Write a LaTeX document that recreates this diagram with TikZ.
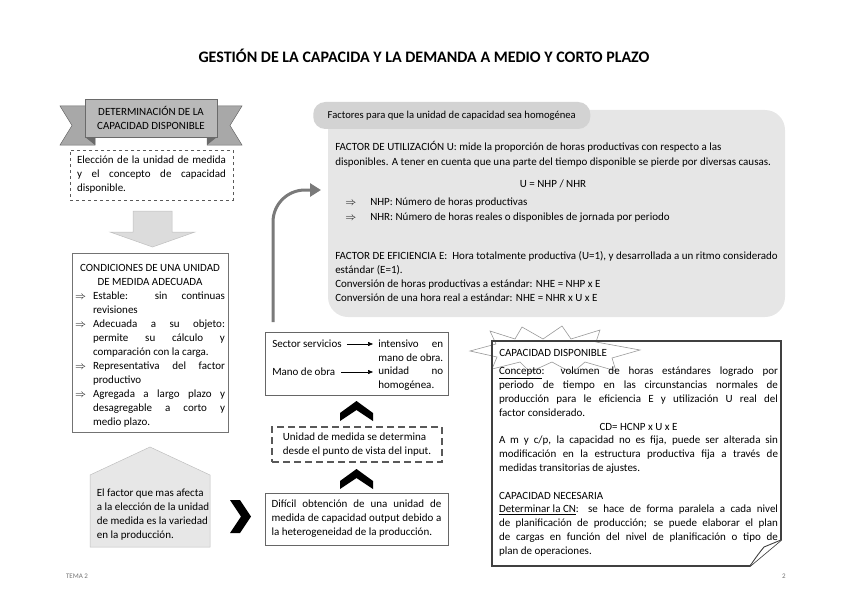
\documentclass[tikz,border=0pt]{standalone}
\usepackage{fontspec}
\setmainfont{Carlito}
\usepackage{amsmath,amssymb}
\usetikzlibrary{arrows.meta,calc}
\setlength{\parindent}{0pt}
\definecolor{ribgray}{HTML}{A8A8A8}
\definecolor{ribdark}{HTML}{6A6A6A}
\definecolor{panelgray}{HTML}{E6E6E6}
\definecolor{tabgray}{HTML}{D3D3D3}
\definecolor{curvegray}{HTML}{7A7A7A}
\definecolor{softgray}{HTML}{DCDCDC}
\newcommand{\arritem}[1]{\hangindent=18pt\hangafter=1\makebox[18pt][l]{$\Rightarrow$}#1\par}
\tikzset{
  >={Triangle[length=5pt,width=4pt]},
  txt/.style={font=\fontsize{11}{14}\selectfont,inner sep=0pt},
  jt/.style={txt,align=justify},
  bx/.style={draw=black!60,line width=0.8pt},
  dbx/.style={draw=black!65,dashed,line width=0.9pt},
  every picture/.style={line width=0.5pt},
}
\begin{document}
\begin{tikzpicture}[x=1pt,y=-1pt]
\useasboundingbox (0,0) rectangle (848,599);
\node[font=\fontsize{16}{18}\selectfont\bfseries] (title) at (424,56) {GESTIÓN DE LA CAPACIDA Y LA DEMANDA A MEDIO Y CORTO PLAZO};
% ribbon
\fill[ribgray,draw=ribdark] (60,106)--(95,106)--(95,145)--(60,145)--(72,125.5)--cycle;
\fill[ribgray,draw=ribdark] (242,106)--(207,106)--(207,145)--(242,145)--(230,125.5)--cycle;
\fill[ribdark] (85,137)--(95,145)--(95,137)--cycle; \fill[ribdark] (217,137)--(207,145)--(207,137)--cycle;
\node[txt,draw=ribdark,fill=ribgray!80,line width=0.8pt,minimum width=132pt,minimum height=38pt,align=center] (ribbon) at (151,118) {DETERMINACIÓN DE LA\\CAPACIDAD DISPONIBLE};
\node[jt,dbx,text width=149pt,minimum height=50pt,inner xsep=7pt,inner ysep=6pt] (elec) at (151.5,175) {Elección de la unidad de medida\linebreak y el concepto de capacidad\linebreak disponible.};
\fill[softgray,draw=black!25] (133,211)--(172,211)--(172,232)--(195,232)--(152.5,247)--(110,232)--(133,232)--cycle;
\node[jt,bx,draw=black!55,text width=150pt,minimum height=179pt,inner xsep=3pt] (cond) at (150,342.5) {\rule{0pt}{13pt}{\centering CONDICIONES DE UNA UNIDAD\\DE MEDIDA ADECUADA\par}
\arritem{Estable: sin continuas\linebreak revisiones}
\arritem{Adecuada a su objeto:\linebreak permite su cálculo y\linebreak comparación con la carga.}
\arritem{Representativa del factor\linebreak productivo}
\arritem{Agregada a largo plazo y\linebreak desagregable a corto y\linebreak medio plazo.}};
% house
\fill[softgray!70,draw=black!25] (150,447)--(210,475)--(210,547)--(90,547)--(90,475)--cycle;
\node[txt,align=left] (house) at (153,515) {El factor que mas afecta\\a la elección de la unidad\\de medida es la variedad\\en la producción.};
\fill (230,500)--(240,500)--(251,516.5)--(240,533)--(230,533)--(241,516.5)--cycle;
% panel
\node[fill=panelgray,rounded corners=20pt,minimum width=457pt,minimum height=207pt] (panel) at (556.5,213.5) {};
\node[txt,font=\fontsize{10.6}{14}\selectfont,fill=tabgray,rounded corners=12pt,minimum width=277pt,minimum height=27pt,anchor=west] (tab) at (313,115.5) {Factores para que la unidad de capacidad sea homogénea};
\node[txt,font=\fontsize{11}{15}\selectfont,align=left,anchor=west] (futil) at (335,154.5) {FACTOR DE UTILIZACIÓN U: mide la proporción de horas productivas con respecto a las\\disponibles. A tener en cuenta que una parte del tiempo disponible se pierde por diversas causas.};
\node[txt] (ueq) at (553,184) {U = NHP / NHR};
\node[txt,font=\fontsize{11}{15}\selectfont,align=left,anchor=west] (nhp) at (345,210.5) {\makebox[25pt][l]{$\Rightarrow$}NHP: Número de horas productivas\\\makebox[25pt][l]{$\Rightarrow$}NHR: Número de horas reales o disponibles de jornada por periodo};
\node[txt,align=left,anchor=west] (efic) at (335,277) {FACTOR DE EFICIENCIA E:\ \ Hora totalmente productiva (U=1), y desarrollada a un ritmo considerado\\estándar (E=1).\\Conversión de horas productivas a estándar: NHE = NHP x E\\Conversión de una hora real a estándar: NHE = NHR x U x E};
\coordinate (cstart) at (273,322); \coordinate (cend) at (321,190);
\draw[curvegray,line width=3pt,rounded corners=32pt,-{Triangle[length=11pt,width=13pt]}] (cstart) |- (cend);
% centre column
\node[bx,minimum width=183pt,minimum height=63pt] (sector) at (356.5,363.5) {};
\node[txt,anchor=west] (sect) at (272,344) {Sector servicios};
\node[txt,anchor=west] (mano) at (272,372) {Mano de obra};
\node[jt,text width=65pt,anchor=west] (inten) at (378,351) {intensivo en\linebreak mano de obra.};
\node[jt,text width=65pt,anchor=west] (unid) at (378,379) {unidad no\linebreak homogénea.};
\draw[->,shorten <=5pt,shorten >=5pt] (sect) -- (sect -| inten.west);
\draw[->,shorten <=6pt,shorten >=5pt] (mano) -- (mano -| unid.west);
\foreach \y in {401,469}{\fill (340,\y+12)--(356.5,\y)--(373,\y+12)--(373,\y+20)--(356.5,\y+9)--(340,\y+20)--cycle;}
\node[txt,align=left,draw=black!65,dash pattern=on 7pt off 4pt,line width=1.6pt,minimum width=170pt,minimum height=35pt] (input) at (357,444.5) {Unidad de medida se determina\\desde el punto de vista del input.};
\node[jt,bx,text width=170pt,inner xsep=6.5pt,minimum height=52pt] (dificil) at (356.5,519) {Difícil obtención de una unidad de\linebreak medida de capacidad output debido a\linebreak la heterogeneidad de la producción.};
% capacity note
\fill[white] (492,341) rectangle (781,566);
\filldraw[fill=white,draw=black!40,line width=0.6pt] (470,351)--(496,344)--(490,331)--(515,339)--(522,327)--(543,339)--(562,326)--(571,339)--(600,330)--(596,342)--(640,350)--(612,358)--(616,371)--(585,362)--(572,373)--(552,362)--(530,372)--(520,362)--(492,369)--(497,357)--cycle;
\draw[black!75,line width=1.6pt] (492,341)--(781,341)--(781,540)--(750,566)--(492,566)--cycle;
\filldraw[fill=white,draw=black!75,line width=0.9pt] (781,540)--(764,547) .. controls (759,553) and (754,560) .. (750,566);
\node[txt,anchor=west] (capd) at (499,353) {CAPACIDAD DISPONIBLE};
\node[jt,font=\fontsize{11}{13.8}\selectfont,text width=279pt,anchor=north] (capbody) at (638.5,367) {\underline{Concepto}: volumen de horas estándares logrado por\linebreak periodo de tiempo en las circunstancias normales de\linebreak producción para le eficiencia E y utilización U real del\linebreak factor considerado.\par
{\centering CD= HCNP x U x E\par}
A m y c/p, la capacidad no es fija, puede ser alterada sin\linebreak modificación en la estructura productiva fija a través de\linebreak medidas transitorias de ajustes.\par
\mbox{}\par
CAPACIDAD NECESARIA\par
\underline{Determinar la CN}: se hace de forma paralela a cada nivel\linebreak de planificación de producción; se puede elaborar el plan\linebreak de cargas en función del nivel de planificación o tipo de\linebreak plan de operaciones.};
\node[font=\fontsize{7}{8}\selectfont,text=black!55] (tema) at (77,576) {TEMA 2};
\node[font=\fontsize{7}{8}\selectfont,text=black!55] (pnum) at (784,576) {2};
\end{tikzpicture}
\end{document}
